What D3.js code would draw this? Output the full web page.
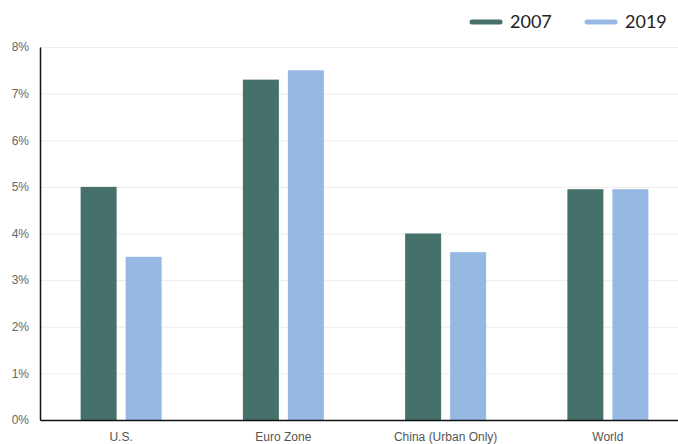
<!DOCTYPE html>
<html>
<head>
<meta charset="utf-8">
<script src="https://cdn.jsdelivr.net/npm/d3@7"></script>
<style>
  html, body { margin: 0; padding: 0; background: #fff; }
  svg { display: block; font-family: "Lato", "Open Sans", sans-serif; }
</style>
</head>
<body>
<svg id="chart" width="678" height="444"></svg>
<script>
// Regions compared and the two survey years
const categories = ["U.S.", "Euro Zone", "China (Urban Only)", "World"];
const years = ["2007", "2019"];
const values2007 = [5.0, 7.3, 4.0, 4.95];
const values2019 = [3.5, 7.5, 3.6, 4.95];
const yTicks = [0, 1, 2, 3, 4, 5, 6, 7, 8];
const colors = ["#46706a", "#96b9e3"];

const svg = d3.select("#chart");
const margin = { left: 40, top: 47, bottom: 420, right: 689 };

const x = d3.scaleBand()
  .domain(categories)
  .range([margin.left, margin.right])
  .paddingInner(0)
  .paddingOuter(0);

const xInner = d3.scaleBand()
  .domain(years)
  .range([0, 81])
  .paddingInner(0.2);

const y = d3.scaleLinear()
  .domain([0, 8])
  .range([margin.bottom, margin.top]);

// Horizontal grid lines
svg.append("g")
  .selectAll("line")
  .data(yTicks.filter(d => d > 0))
  .join("line")
  .attr("x1", margin.left)
  .attr("x2", 678)
  .attr("y1", d => y(d) + 0.5)
  .attr("y2", d => y(d) + 0.5)
  .attr("stroke", "#ececec")
  .attr("stroke-width", 1);

// Bars
const series = [values2007, values2019];
const groups = svg.append("g")
  .selectAll("g")
  .data(categories)
  .join("g")
  .attr("transform", d => `translate(${x(d) + x.bandwidth() / 2 - 40.5},0)`);

groups.selectAll("rect")
  .data((c, i) => years.map((yr, k) => ({ yr, k, v: series[k][i] })))
  .join("rect")
  .attr("x", d => xInner(d.yr))
  .attr("width", xInner.bandwidth())
  .attr("y", d => y(d.v))
  .attr("height", d => y(0) - y(d.v))
  .attr("fill", d => colors[d.k]);

// Y axis
const yAxis = d3.axisLeft(y)
  .tickValues(yTicks)
  .tickFormat(d => d + "%")
  .tickSize(0)
  .tickPadding(11);
const gy = svg.append("g")
  .attr("transform", `translate(${margin.left},0)`)
  .call(yAxis);
gy.select(".domain").attr("stroke", "#111").attr("stroke-width", 1.5);
gy.selectAll("text").attr("fill", "#666").attr("font-size", 12);

// X axis
const xAxis = d3.axisBottom(x).tickSize(0).tickPadding(12);
const gx = svg.append("g")
  .attr("transform", `translate(0,${margin.bottom})`)
  .call(xAxis);
gx.select(".domain").attr("stroke", "#111").attr("stroke-width", 1.5);
gx.selectAll("text").attr("fill", "#555").attr("font-size", 12);

// Legend
const legend = svg.append("g");
const legendX = [470, 585];
years.forEach((yr, k) => {
  legend.append("line")
    .attr("x1", legendX[k] + 2)
    .attr("x2", legendX[k] + 30)
    .attr("y1", 22)
    .attr("y2", 22)
    .attr("stroke", colors[k])
    .attr("stroke-width", 5)
    .attr("stroke-linecap", "round");
  legend.append("text")
    .attr("x", legendX[k] + 40)
    .attr("y", 22)
    .attr("dy", "0.35em")
    .attr("fill", "#222")
    .attr("font-size", 18)
    .text(yr);
});
</script>
</body>
</html>
